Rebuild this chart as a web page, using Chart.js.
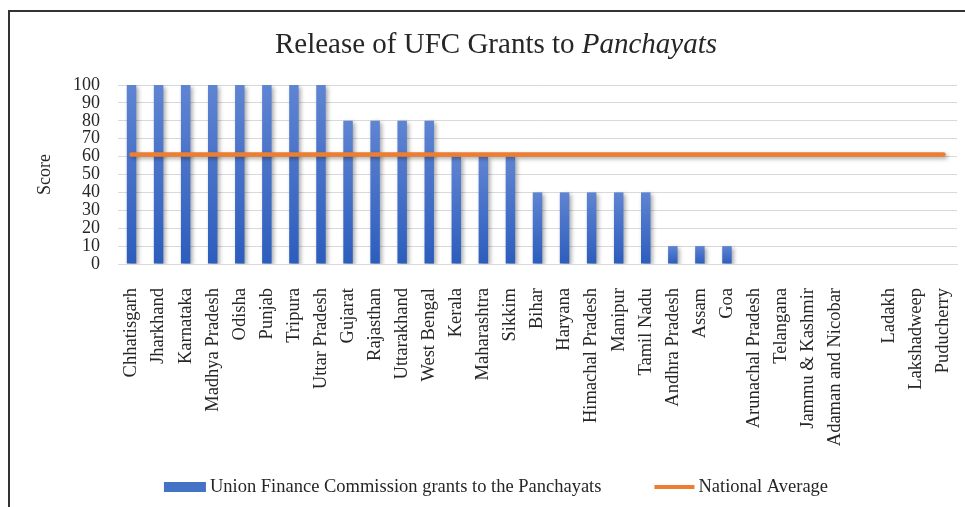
<!DOCTYPE html>
<html>
<head>
<meta charset="utf-8">
<script src="https://cdn.jsdelivr.net/npm/chart.js@4.4.0/dist/chart.umd.min.js"></script>
<style>
  html, body { margin: 0; padding: 0; background: #fff; overflow: hidden; }
  #frame {
    position: absolute; left: 8px; top: 10px; width: 957px; height: 497px;
    border-top: 2px solid #333; border-left: 2px solid #333; box-sizing: border-box;
  }
  #wrap { position: absolute; left: 10px; top: 0; width: 972px; height: 507px; }
</style>
</head>
<body>
<div id="frame"></div>
<div id="wrap"><canvas id="chart"></canvas></div>
<script>
const states = [
  "Chhatisgarh", "Jharkhand", "Karnataka", "Madhya Pradesh", "Odisha", "Punjab",
  "Tripura", "Uttar Pradesh", "Gujarat", "Rajasthan", "Uttarakhand", "West Bengal",
  "Kerala", "Maharashtra", "Sikkim", "Bihar", "Haryana", "Himachal Pradesh",
  "Manipur", "Tamil Nadu", "Andhra Pradesh", "Assam", "Goa", "Arunachal Pradesh",
  "Telangana", "Jammu & Kashmir", "Adaman and Nicobar", "", "Ladakh",
  "Lakshadweep", "Puducherry"
];
const ufcGrants = [
  100, 100, 100, 100, 100, 100, 100, 100, 80, 80, 80, 80,
  60, 60, 60, 40, 40, 40, 40, 40, 10, 10, 10, 0,
  0, 0, 0, 0, 0, 0, 0
];
const nationalAverage = [
  61.2, 61.2, 61.2, 61.2, 61.2, 61.2, 61.2, 61.2, 61.2, 61.2, 61.2, 61.2,
  61.2, 61.2, 61.2, 61.2, 61.2, 61.2, 61.2, 61.2, 61.2, 61.2, 61.2, 61.2,
  61.2, 61.2, 61.2, 61.2, 61.2, 61.2, 61.2
];

const serif = '"Liberation Serif", "Times New Roman", serif';
const textColor = '#262626';
const barBlue = '#4472C4';
const avgOrange = '#ED7D31';

// each bar gets its own light-to-dark gradient, like the Excel fill
function barFill(context) {
  const chart = context.chart;
  const y = chart.scales && chart.scales.y;
  if (!y || context.type !== 'data') return barBlue;
  const top = y.getPixelForValue(context.raw);
  const base = y.getPixelForValue(0);
  if (!isFinite(top) || !isFinite(base) || base - top < 1) return barBlue;
  const g = chart.ctx.createLinearGradient(0, top, 0, base);
  g.addColorStop(0, '#5f84d2');
  g.addColorStop(1, '#2c5dbd');
  return g;
}

const shadowPlugin = {
  id: 'shadow',
  beforeDatasetDraw(chart) {
    const ctx = chart.ctx;
    ctx.save();
    ctx.shadowColor = 'rgba(0,0,0,0.35)';
    ctx.shadowBlur = 4;
    ctx.shadowOffsetX = 2;
    ctx.shadowOffsetY = 2;
  },
  afterDatasetDraw(chart) {
    chart.ctx.restore();
  }
};

// title has an italic word, so it is drawn in two parts
const titlePlugin = {
  id: 'mixedTitle',
  afterDraw(chart) {
    const ctx = chart.ctx;
    const parts = [
      { text: 'Release of UFC Grants to ', style: '' },
      { text: 'Panchayats', style: 'italic ' }
    ];
    ctx.save();
    let total = 0;
    parts.forEach(p => {
      ctx.font = p.style + '29px ' + serif;
      p.w = ctx.measureText(p.text).width;
      total += p.w;
    });
    let x = chart.width / 2 - total / 2;
    ctx.textBaseline = 'middle';
    ctx.fillStyle = textColor;
    parts.forEach(p => {
      ctx.font = p.style + '29px ' + serif;
      ctx.fillText(p.text, x, 45);
      x += p.w;
    });
    ctx.restore();
  }
};

// legend drawn by hand: wide gap between the two entries, bar swatch + line swatch
const legendPlugin = {
  id: 'bottomLegend',
  afterDraw(chart) {
    const ctx = chart.ctx;
    const bars = chart.data.datasets[1];
    const line = chart.data.datasets[0];
    ctx.save();
    ctx.font = '18.5px ' + serif;
    const w1 = ctx.measureText(bars.label).width;
    const w2 = ctx.measureText(line.label).width;
    const total = 42 + 4 + w1 + 53 + 40 + 4 + w2;
    let x = chart.width / 2 - total / 2;
    const y = 487;
    ctx.fillStyle = barBlue;
    ctx.fillRect(x, y - 5, 42, 10);
    x += 46;
    ctx.fillStyle = textColor;
    ctx.textBaseline = 'middle';
    ctx.fillText(bars.label, x, y);
    x += w1 + 53;
    ctx.strokeStyle = avgOrange;
    ctx.lineWidth = 4;
    ctx.beginPath();
    ctx.moveTo(x, y);
    ctx.lineTo(x + 40, y);
    ctx.stroke();
    x += 44;
    ctx.fillText(line.label, x, y);
    ctx.restore();
  }
};

new Chart(document.getElementById('chart'), {
  data: {
    labels: states,
    datasets: [
      {
        type: 'line',
        label: 'National Average',
        data: nationalAverage,
        borderColor: avgOrange,
        backgroundColor: avgOrange,
        borderWidth: 4.5,
        borderCapStyle: 'round',
        pointRadius: 0,
        order: 0
      },
      {
        type: 'bar',
        label: 'Union Finance Commission grants to the Panchayats',
        data: ufcGrants,
        backgroundColor: barFill,
        borderWidth: 0,
        categoryPercentage: 1,
        barPercentage: 0.35,
        order: 1
      }
    ]
  },
  options: {
    responsive: true,
    maintainAspectRatio: false,
    animation: false,
    layout: { padding: { left: 20, right: 25, top: 85, bottom: 53 } },
    plugins: {
      title: { display: false },
      tooltip: { enabled: false },
      legend: { display: false }
    },
    scales: {
      x: {
        grid: { display: false, drawTicks: false },
        border: { color: '#d9d9d9' },
        afterFit(scale) {
          // rotated labels make Chart.js reserve extra side room; not needed here
          scale.height = 190;
          scale.paddingLeft = 0;
          scale.paddingRight = 0;
        },
        ticks: {
          autoSkip: false,
          minRotation: 90,
          maxRotation: 90,
          padding: 24,
          color: textColor,
          font: { family: serif, size: 18.5 }
        }
      },
      y: {
        min: 0,
        max: 100,
        afterFit(scale) { scale.width = 88; },
        grid: { color: '#d9d9d9', drawTicks: false },
        border: { display: false },
        ticks: {
          stepSize: 10,
          autoSkip: false,
          padding: 18,
          color: textColor,
          font: { family: serif, size: 18 }
        },
        title: {
          display: true,
          text: 'Score',
          color: textColor,
          padding: { top: 4, bottom: 4 },
          font: { family: serif, size: 18 }
        }
      }
    }
  },
  plugins: [shadowPlugin, titlePlugin, legendPlugin]
});
</script>
</body>
</html>
